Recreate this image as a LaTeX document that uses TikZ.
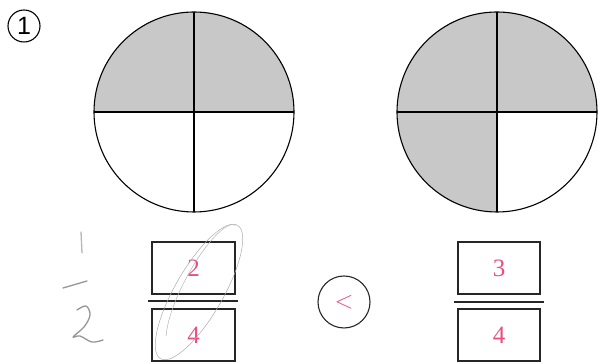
\documentclass[tikz,border=0pt]{standalone}
\usepackage{fontspec}
\setmainfont{Liberation Serif}
\setsansfont{Liberation Sans}
\usepackage{xcolor}
\usepackage{tikz}
\usetikzlibrary{arrows.meta}

\definecolor{answerpink}{RGB}{234,78,128}
\definecolor{pieshade}{RGB}{200,200,200}
\definecolor{pencil}{RGB}{150,150,150}

\begin{document}
\begin{tikzpicture}[x=1pt, y=1pt,
  pie/.style={draw=black, line width=1.1pt},
  slice/.style={fill=pieshade},
  ansbox/.style={draw=black!85, line width=1.5pt, minimum width=83pt,
                 minimum height=52pt, inner sep=0pt, text=answerpink,
                 font=\fontsize{25}{30}\selectfont},
  bar/.style={line width=1.5pt, black!85},
  signcirc/.style={draw=black!85, circle, line width=1.1pt, minimum size=52pt,
                   inner sep=0pt, text=answerpink, font=\fontsize{24}{28}\selectfont},
  numcirc/.style={draw=black, circle, line width=1.1pt, minimum size=32pt,
                  inner sep=0pt, font=\sffamily\fontsize{25}{28}\selectfont},
  pencilmark/.style={pencil, line width=1.3pt, line cap=round, line join=round}
]
  \useasboundingbox (0,0) rectangle (598,363);

  % Exercise number
  \node[numcirc] (num) at (24,337) {1};

  % Pies
  \coordinate (pl) at (194,251);
  \coordinate (pr) at (497,251);
  \fill[slice] (pl) -- ++(100,0) arc[start angle=0, end angle=180, radius=100] -- cycle;
  \fill[slice] (pr) -- ++(100,0) arc[start angle=0, end angle=270, radius=100] -- cycle;
  \foreach \c in {pl,pr}{
    \draw[pie] (\c) circle[radius=100];
    \draw[pie] ([xshift=-100pt]\c) -- ([xshift=100pt]\c);
    \draw[pie] ([yshift=-100pt]\c) -- ([yshift=100pt]\c);
  }

  % Fractions
  \node[ansbox] (numl) at (193.5,95) {2};
  \node[ansbox] (denl) at (193.5,28) {4};
  \node[ansbox, minimum width=82pt] (numr) at (499,95) {3};
  \node[ansbox, minimum width=82pt] (denr) at (499,28) {4};
  \draw[bar] (148,62) -- (238,62);
  \draw[bar] (454,61) -- (544,61);

  % Sign
  \node[signcirc] (sign) at (344,61) {$<$};

  % Pencil notes
  \draw[pencilmark, pencil!70] (81,131) -- (82,110);
  \draw[pencilmark] (63,75) -- (87,82);
  \draw[pencilmark] plot[smooth, tension=0.6] coordinates
    {(77,53) (86,57) (90,48) (84,36) (73,26) (80,27) (92,21) (103,23)};
  \draw[pencil!80, line width=0.5pt, rotate around={60:(199,71)}]
    (199,71) ellipse[x radius=77pt, y radius=24pt];
  \begin{scope}[shift={(203,76)}, rotate=62]
    \draw[pencil!70, line width=0.5pt]
      (0:70pt) arc[start angle=0, end angle=150, x radius=70pt, y radius=19pt];
  \end{scope}
\end{tikzpicture}
\end{document}
